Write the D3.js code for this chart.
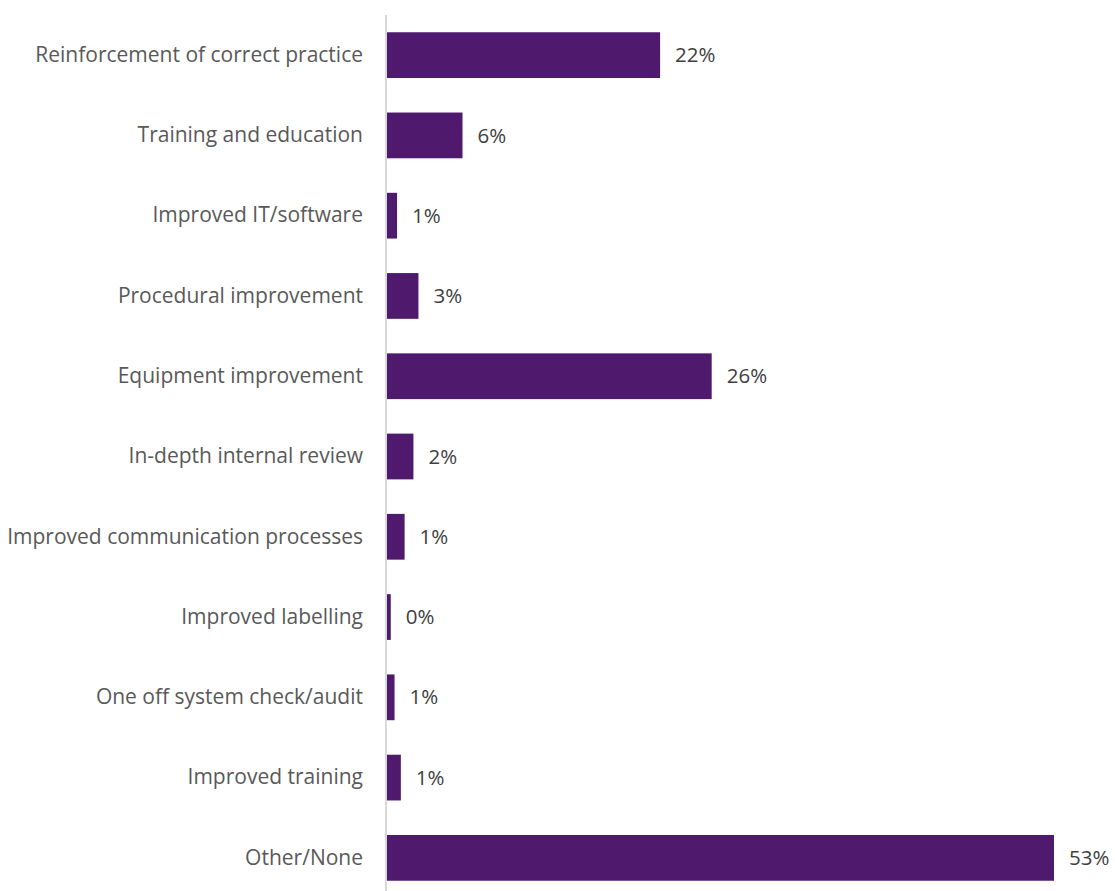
<!DOCTYPE html>
<html><head><meta charset="utf-8">
<script src="https://cdn.jsdelivr.net/npm/d3@7"></script>
<style>body{margin:0;background:#fff}</style>
</head><body>
<svg id="c" width="1115" height="891"></svg>
<script>
const categories = ["Reinforcement of correct practice","Training and education","Improved IT/software","Procedural improvement","Equipment improvement","In-depth internal review","Improved communication processes","Improved labelling","One off system check/audit","Improved training","Other/None"];
const values = [21.7, 6.0, 0.8, 2.5, 25.8, 2.1, 1.4, 0.3, 0.6, 1.1, 53.0];

const svg = d3.select("#c");
const x = d3.scaleLinear().domain([0, 53]).range([387, 1054]);
const y = d3.scaleBand().domain(categories).range([15, 898]).paddingInner(0.43).paddingOuter(0.215);

svg.selectAll("rect.bar").data(categories).join("rect")
  .attr("x", x(0)).attr("y", d => y(d))
  .attr("width", (d,i) => x(values[i]) - x(0))
  .attr("height", y.bandwidth())
  .attr("fill", "#4f1a6e");

const ax = svg.append("g").attr("transform", `translate(${x(0)-1},0)`)
  .call(d3.axisLeft(y).tickSize(0).tickPadding(23));
ax.select(".domain").remove();
ax.selectAll("text").attr("font-family","Open Sans, sans-serif").attr("font-size","21px").attr("fill","#595959");

svg.append("line").attr("x1", x(0)-1).attr("x2", x(0)-1).attr("y1", 15).attr("y2", 891)
  .attr("stroke", "#d9d9d9").attr("stroke-width", 2);

svg.selectAll("text.val").data(categories).join("text").attr("class","val")
  .attr("x", (d,i) => x(values[i]) + 15)
  .attr("y", d => y(d) + y.bandwidth()/2)
  .attr("dy", "0.35em")
  .attr("font-family","Open Sans, sans-serif").attr("font-size","20.5px").attr("fill","#404040")
  .text((d,i) => Math.round(values[i]) + "%");
</script>
</body></html>
